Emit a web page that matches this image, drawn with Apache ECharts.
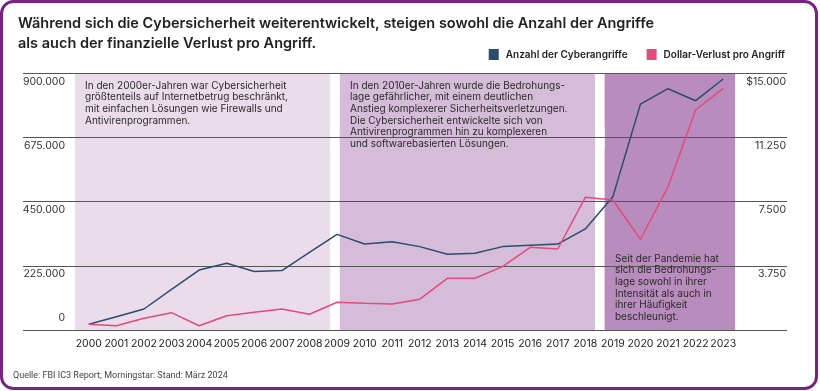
<!DOCTYPE html>
<html>
<head>
<meta charset="utf-8">
<script src="https://cdn.jsdelivr.net/npm/echarts@6/dist/echarts.min.js"></script>
<style>
html,body{margin:0;padding:0;background:#fff;}
#chart{width:820px;height:391px;}
</style>
</head>
<body>
<div id="chart"></div>
<script>
// ---- data ----
var years = ['2000','2001','2002','2003','2004','2005','2006','2007','2008','2009','2010','2011','2012','2013','2014','2015','2016','2017','2018','2019','2020','2021','2022','2023'];
var attacks = [20000, 46700, 73500, 142000, 210000, 233500, 205000, 208000, 272000, 335000, 301000, 309000, 292000, 265000, 268500, 292000, 296500, 301000, 354000, 467000, 791000, 845000, 803000, 879000];
var lossPerAttack = [333, 251, 683, 1010, 251, 835, 1033, 1226, 916, 1617, 1558, 1518, 1800, 3017, 3017, 3697, 4825, 4728, 7743, 7588, 5292, 8366, 12841, 14107];
var leftTicks = ['0', '225.000', '450.000', '675.000', '900.000'];
var rightTicks = ['', '3.750', '7.500', '11.250', '$15.000'];
var eras = [[1999.5, 2008.75], [2009.1, 2018.35], [2018.7, 2023.43]];
var eraTexts = [
  'In den 2000er-Jahren war Cybersicherheit\ngrößtenteils auf Internetbetrug beschränkt,\nmit einfachen Lösungen wie Firewalls und\nAntivirenprogrammen.',
  'In den 2010er-Jahren wurde die Bedrohungs-\nlage gefährlicher, mit einem deutlichen\nAnstieg komplexerer Sicherheitsverletzungen.\nDie Cybersicherheit entwickelte sich von\nAntivirenprogrammen hin zu komplexeren\nund softwarebasierten Lösungen.',
  'Seit der Pandemie hat\nsich die Bedrohungs-\nlage sowohl in ihrer\nIntensität als auch in\nihrer Häufigkeit\nbeschleunigt.'
];
var seriesNames = ['Anzahl der Cyberangriffe', 'Dollar-Verlust pro Angriff'];
var titleLines = ['Während sich die Cybersicherheit weiterentwickelt, steigen sowohl die Anzahl der Angriffe', 'als auch der finanzielle Verlust pro Angriff.'];
var sourceText = 'Quelle: FBI IC3 Report; Morningstar: Stand: März 2024';

// ---- layout ----
var W = 820, H = 391;
var outerL = 23, outerR = 787, innerL = 75, innerR = 737, plotTop = 73, plotBottom = 330;
var unit = (innerR - innerL) / years.length;
var xMin = 1999.5 - (innerL - outerL) / unit;
var xMax = 2023.5 + (outerR - innerR) / unit;

var eraColors = ['#eadcea', '#d5bcd8', '#b88cbc'];
var blue = '#2b4c6f', pink = '#e44a7b';
var font = 'Inter, "Noto Sans", sans-serif';

var chart = echarts.init(document.getElementById('chart'), null, {renderer: 'canvas'});

var option = {
  backgroundColor: '#fff',
  animation: false,
  title: {
    text: titleLines.join('\n'),
    left: 13, top: 8,
    textStyle: {fontFamily: font, fontSize: 14.5, fontWeight: 600, color: '#222', lineHeight: 20.5}
  },
  legend: {
    right: 30, top: 44,
    icon: 'rect', itemWidth: 10, itemHeight: 11, itemGap: 19,
    textStyle: {fontFamily: font, fontSize: 10, fontWeight: 600, color: '#222', padding: [0, 0, 0, 2]},
    data: seriesNames
  },
  grid: [
    {left: outerL, right: W - outerR, top: plotTop, bottom: H - plotBottom},
    {left: innerL, right: W - innerR, top: plotTop, bottom: H - plotBottom}
  ],
  xAxis: [
    {type: 'value', gridIndex: 0, min: xMin, max: xMax, show: false},
    {type: 'category', gridIndex: 1, data: years, boundaryGap: true,
      axisLine: {show: false}, axisTick: {show: false},
      axisLabel: {interval: 0, margin: 8, fontFamily: font, fontSize: 10.5, color: '#222'}}
  ],
  yAxis: [
    {type: 'value', gridIndex: 0, position: 'left', min: 0, max: 900000, interval: 225000, z: 3,
      axisLine: {show: false}, axisTick: {show: false},
      splitLine: {show: true, lineStyle: {color: '#555', width: 1}},
      axisLabel: {align: 'right', verticalAlign: 'top', margin: -42, padding: [3, 0, 0, 0],
        fontFamily: font, fontSize: 10.5, color: '#333',
        formatter: function (v, i) { return i === 0 ? '' : leftTicks[i]; }}},
    {type: 'value', gridIndex: 0, position: 'left', min: 0, max: 900000, interval: 225000, z: 3,
      axisLine: {show: false}, axisTick: {show: false}, splitLine: {show: false},
      axisLabel: {align: 'right', verticalAlign: 'bottom', margin: -42, padding: [0, 0, 7, 0],
        fontFamily: font, fontSize: 10.5, color: '#333',
        formatter: function (v, i) { return i === 0 ? leftTicks[0] : ''; }}},
    {type: 'value', gridIndex: 0, position: 'right', min: 0, max: 15000, interval: 3750, z: 3,
      axisLine: {show: false}, axisTick: {show: false}, splitLine: {show: false},
      axisLabel: {align: 'right', verticalAlign: 'top', margin: -1, padding: [3, 0, 0, 0],
        fontFamily: font, fontSize: 10.5, color: '#333',
        formatter: function (v, i) { return rightTicks[i]; }}},
    {type: 'value', gridIndex: 1, min: 0, max: 900000, show: false},
    {type: 'value', gridIndex: 1, min: 0, max: 15000, show: false}
  ],
  graphic: [
    {type: 'rect', shape: {x: 1.5, y: 1.5, width: 815, height: 387, r: 12}, silent: true,
      style: {fill: 'none', stroke: '#7a2183', lineWidth: 3}, z: 100},
    {type: 'text', left: 85, top: 80, z: 50, style: {text: eraTexts[0], font: '10px ' + font, lineHeight: 11.6, fill: '#2a2a2a'}},
    {type: 'text', left: 350, top: 80, z: 50, style: {text: eraTexts[1], font: '10px ' + font, lineHeight: 11.6, fill: '#2a2a2a'}},
    {type: 'text', left: 615, top: 253, z: 50, style: {text: eraTexts[2], font: '10px ' + font, lineHeight: 11.6, fill: '#2a2a2a'}},
    {type: 'text', left: 13, top: 371, z: 50, style: {text: sourceText, font: '9px Roboto, sans-serif', fill: '#444'}}
  ],
  series: [
    {type: 'line', name: '_eras', xAxisIndex: 0, yAxisIndex: 0, data: [], z: 1, silent: true,
      markArea: {silent: true, label: {show: false},
        data: eras.map(function (e, i) {
          return [{xAxis: e[0], itemStyle: {color: eraColors[i], opacity: 1}}, {xAxis: e[1]}];
        })}},
    {type: 'line', name: '_covers', xAxisIndex: 0, yAxisIndex: 0, data: [], z: 4, silent: true,
      markArea: {silent: true, label: {show: false},
        data: [
          [{xAxis: eras[0][1], yAxis: 640000, itemStyle: {color: '#fff', opacity: 1}}, {xAxis: eras[1][0], yAxis: 710000}],
          [{xAxis: eras[1][0], yAxis: 640000, itemStyle: {color: eraColors[1], opacity: 1}}, {xAxis: eras[1][1], yAxis: 710000}],
          [{xAxis: eras[1][1], yAxis: 640000, itemStyle: {color: '#fff', opacity: 1}}, {xAxis: eras[2][0], yAxis: 710000}],
          [{xAxis: eras[1][1], yAxis: 210000, itemStyle: {color: '#fff', opacity: 1}}, {xAxis: eras[2][0], yAxis: 240000}],
          [{xAxis: eras[2][0], yAxis: 210000, itemStyle: {color: eraColors[2], opacity: 1}}, {xAxis: eras[2][1], yAxis: 240000}],
          [{xAxis: eras[2][1], yAxis: 210000, itemStyle: {color: '#fff', opacity: 1}}, {xAxis: 2023.72, yAxis: 240000}]
        ]}},
    {type: 'line', name: seriesNames[0], xAxisIndex: 1, yAxisIndex: 3, data: attacks, z: 6,
      symbol: 'none', lineStyle: {color: blue, width: 1.5}, itemStyle: {color: blue}},
    {type: 'line', name: seriesNames[1], xAxisIndex: 1, yAxisIndex: 4, data: lossPerAttack, z: 6,
      symbol: 'none', lineStyle: {color: pink, width: 1.5}, itemStyle: {color: pink}}
  ]
};
chart.setOption(option);
</script>
</body>
</html>
